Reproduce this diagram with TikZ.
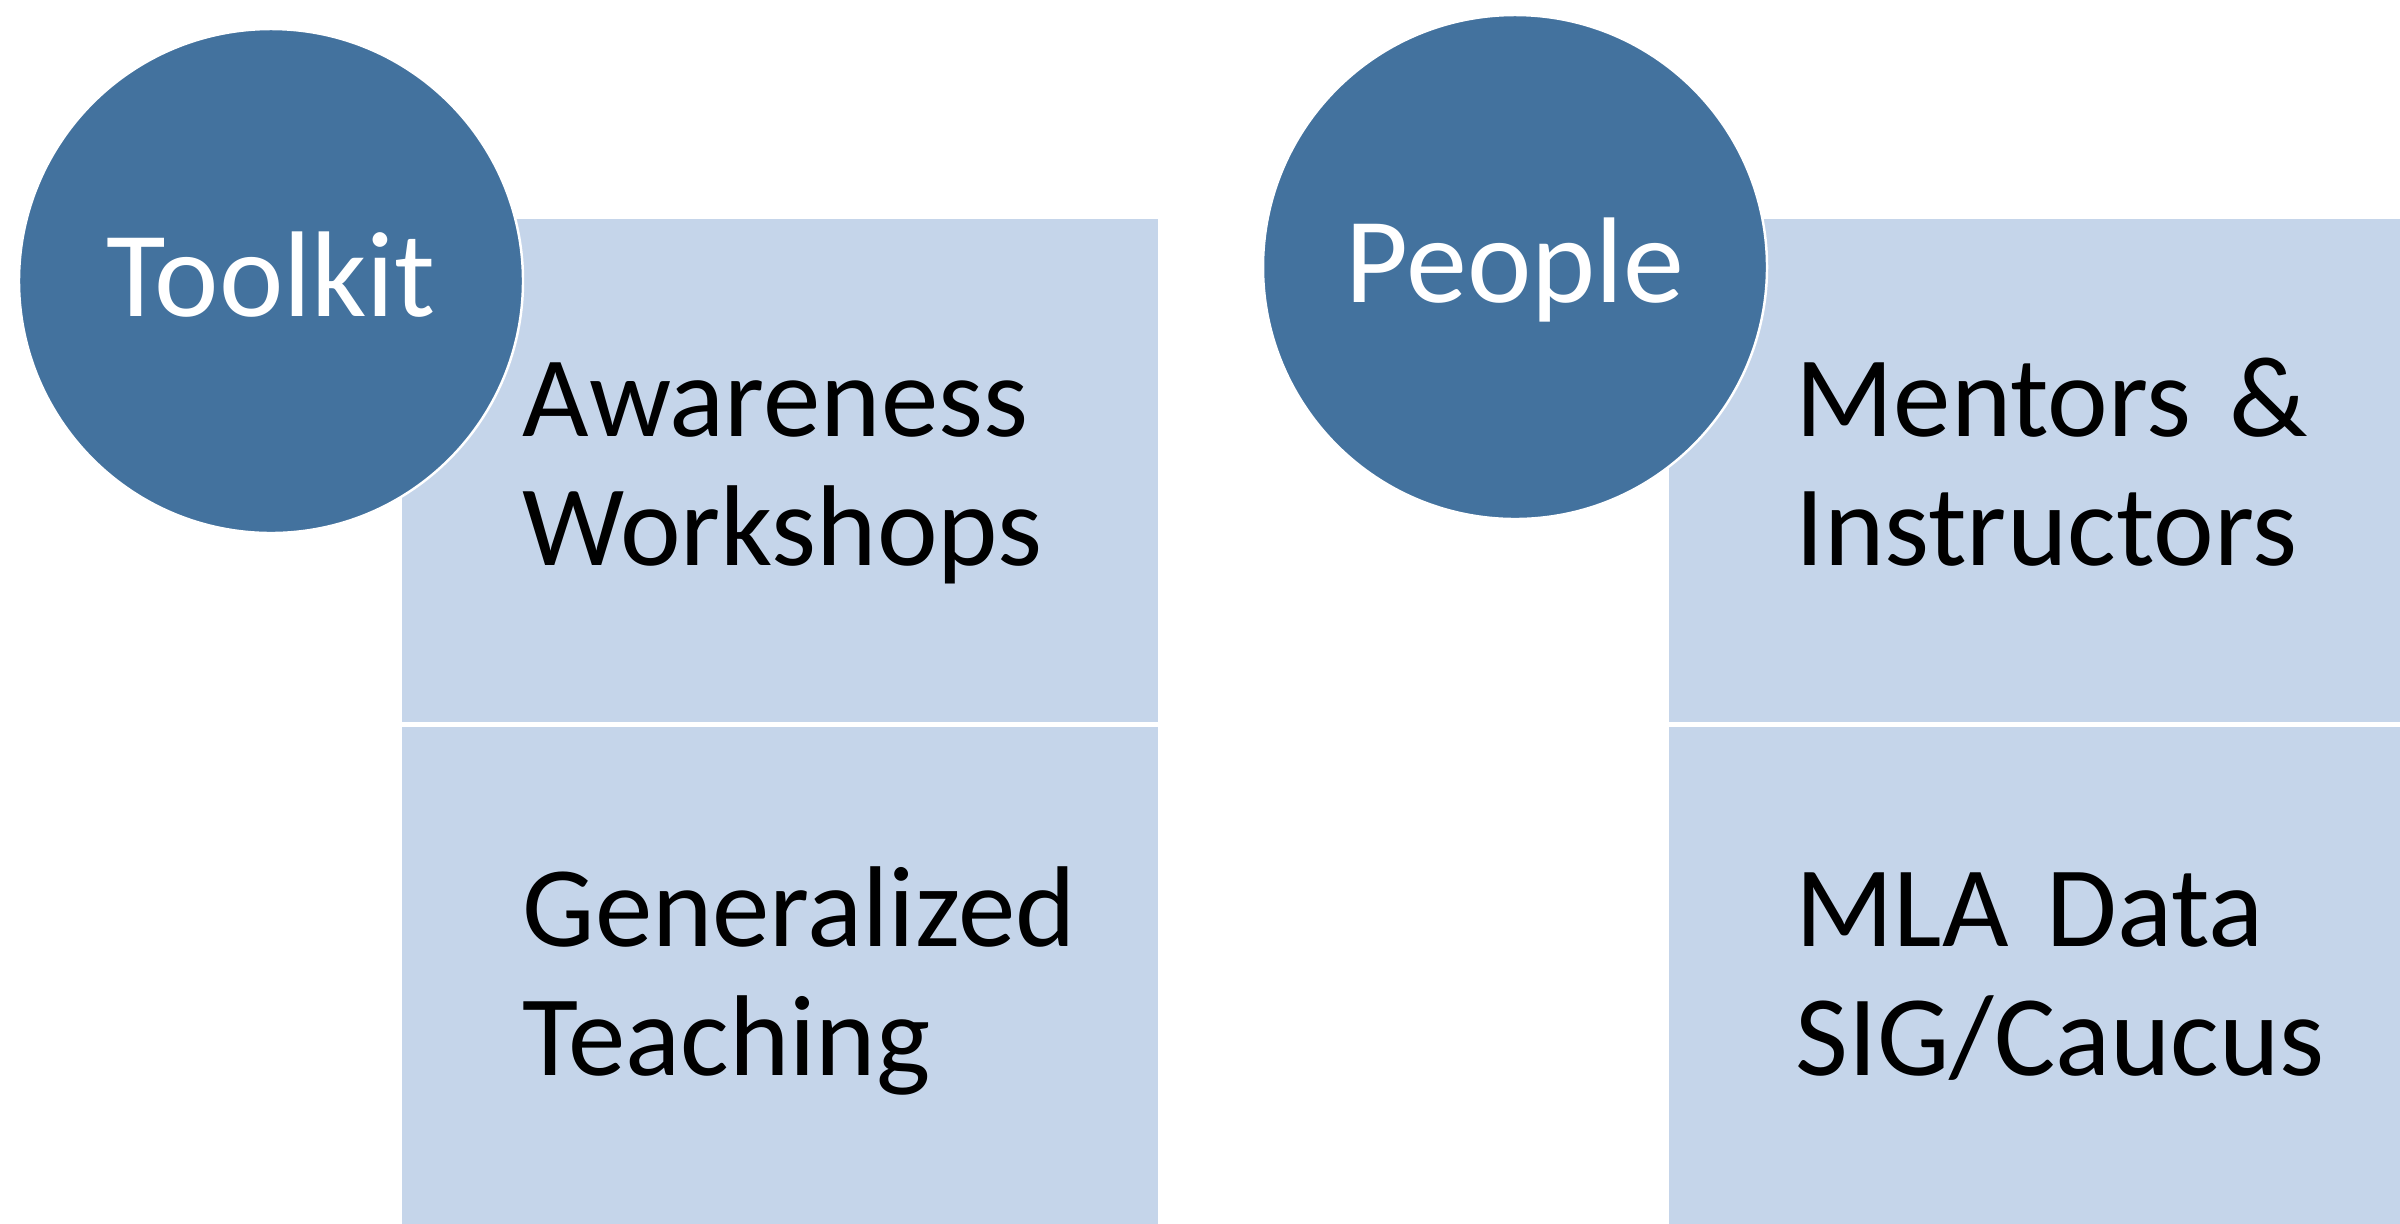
\documentclass[tikz,border=0pt]{standalone}
\usepackage{fontspec}
\setmainfont{Carlito}
\usetikzlibrary{positioning}
\definecolor{hubblue}{HTML}{43729E}
\definecolor{cellblue}{HTML}{C5D5EA}

\begin{document}
\begin{tikzpicture}[
    hub/.style={circle, fill=hubblue, draw=white, line width=0.7pt, minimum size=5.04cm, inner sep=0pt, text=white, text height=1cm, text depth=0.3cm, font=\fontsize{34.7pt}{41pt}\selectfont},
    cell/.style={rectangle, fill=cellblue, draw=white, line width=0.7pt, minimum width=7.58cm, minimum height=5.05cm, inner sep=0pt},
    celltext/.style={anchor=base west, inner sep=0pt, text width=6.5cm, align=left, font=\fontsize{32.7pt}{36.7pt}\selectfont}]
            \useasboundingbox (0,0) rectangle (24,-12.23);
            \node[cell] (aware) at (7.80,-4.705) {};
            \node[cell, below=0pt of aware] (general) {};
            \node[cell] (mentors) at (20.47,-4.705) {};
            \node[cell, below=0pt of mentors] (mla) {};
            \node[celltext] (awaretxt) at ([xshift=1.22cm, yshift=-2.2cm]aware.north west) {Awareness\\Workshops};
            \node[celltext] (generaltxt) at ([xshift=1.22cm, yshift=-2.22cm]general.north west) {Generalized\\Teaching};
            \node[celltext] (mentorstxt) at ([xshift=1.28cm, yshift=-2.2cm]mentors.north west) {Mentors \&\\Instructors};
            \node[celltext] (mlatxt) at ([xshift=1.28cm, yshift=-2.22cm]mla.north west) {MLA Data\\SIG/Caucus};
            \node[hub] (toolkit) at (2.71,-2.81) {Toolkit};
            \node[hub] (people) at (15.15,-2.67) {People};
        \end{tikzpicture}
\end{document}
